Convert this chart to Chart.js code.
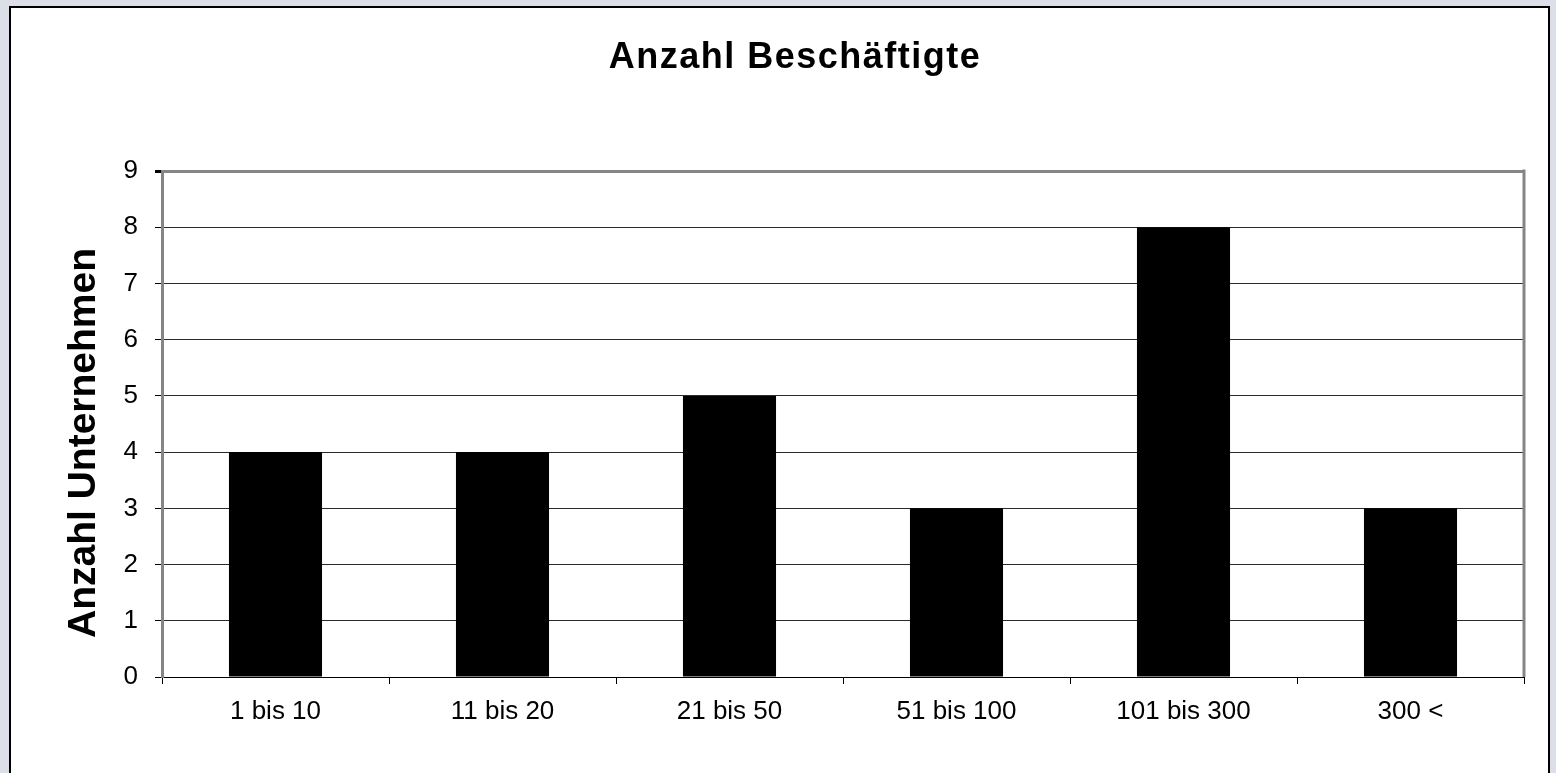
<!DOCTYPE html>
<html><head><meta charset="utf-8">
<script src="https://cdn.jsdelivr.net/npm/chart.js@4"></script>
<style>
html,body{margin:0;padding:0;background:#dcdfe8;width:1556px;height:773px;overflow:hidden}
#panel{position:absolute;left:9px;top:6px;width:1541px;height:820px;border:2px solid #000;background:#fff;box-sizing:border-box}
#wrap{position:absolute;left:0;top:0;width:1556px;height:773px}
</style></head><body>
<div id="panel"></div>
<div id="wrap"><canvas id="c" width="1556" height="773"></canvas></div>
<script>
const chartTitle = 'Anzahl Beschäftigte';
const yAxisTitle = 'Anzahl Unternehmen';
const categories = ['1 bis 10', '11 bis 20', '21 bis 50', '51 bis 100', '101 bis 300', '300 <'];
const values = [4, 4, 5, 3, 8, 3];
const yMin = 0;
const yMax = 9;
const yStep = 1;

const FONT = '"Liberation Sans", Arial, sans-serif';

const textPlugin = {
  id: 'texts',
  afterDatasetsDraw(chart) {
    const ctx = chart.ctx;
    const a = chart.chartArea;
    ctx.save();
    ctx.strokeStyle = '#858585';
    ctx.lineWidth = 3;
    ctx.beginPath();
    ctx.moveTo(a.right, a.top - 1.5);
    ctx.lineTo(a.right, a.bottom);
    ctx.stroke();
    ctx.restore();
  },
  afterDraw(chart) {
    const ctx = chart.ctx;
    ctx.save();
    ctx.fillStyle = '#000';
    ctx.font = 'bold 36px ' + FONT;
    try { ctx.letterSpacing = '1.5px'; } catch (e) {}
    ctx.textAlign = 'center';
    ctx.textBaseline = 'alphabetic';
    ctx.fillText(chartTitle, 795, 68);
    try { ctx.letterSpacing = '0px'; } catch (e) {}
    ctx.translate(95, 443);
    ctx.rotate(-Math.PI / 2);
    ctx.font = 'bold 39px ' + FONT;
    ctx.fillText(yAxisTitle, 0, 0);
    ctx.restore();
  }
};

new Chart(document.getElementById('c'), {
  type: 'bar',
  data: {
    labels: categories,
    datasets: [{
      data: values,
      backgroundColor: '#000',
      borderWidth: 0,
      barPercentage: 0.41,
      categoryPercentage: 1.0
    }]
  },
  options: {
    responsive: false,
    devicePixelRatio: 1,
    animation: false,
    layout: { padding: { left: 0, right: 32, top: 171, bottom: 0 } },
    plugins: { legend: { display: false }, title: { display: false }, tooltip: { enabled: false } },
    scales: {
      x: {
        type: 'category',
        offset: true,
        afterFit(s) { s.height = 96; },
        grid: { offset: true, drawOnChartArea: false, drawTicks: true, tickLength: 7, color: '#000', tickColor: '#000', lineWidth: 1 },
        border: { display: true, color: '#000', width: 1 },
        ticks: { color: '#000', font: { family: FONT, size: 26 }, padding: 12, maxRotation: 0, autoSkip: false }
      },
      y: {
        min: yMin,
        max: yMax,
        afterFit(s) { s.width = 162; },
        ticks: { stepSize: yStep, color: '#000', font: { family: FONT, size: 26 }, padding: 17 },
        grid: {
          color: (c) => (c.tick && c.tick.value === yMax) ? '#858585' : '#2a2a2a',
          lineWidth: (c) => (c.tick && c.tick.value === yMax) ? 3 : 1,
          tickColor: '#000',
          tickLength: 7,
          drawTicks: true
        },
        border: { display: true, color: '#858585', width: 3 }
      }
    }
  },
  plugins: [textPlugin]
});
</script>
</body></html>
